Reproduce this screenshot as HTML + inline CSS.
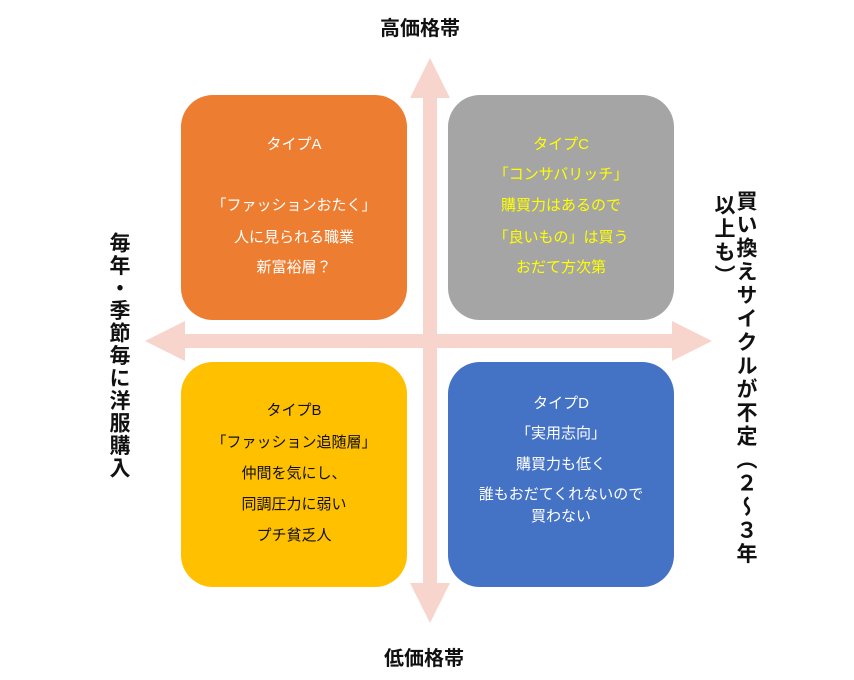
<!DOCTYPE html>
<html><head><meta charset="utf-8"><style>
body{margin:0;width:854px;height:680px;background:#fff;position:relative;overflow:hidden;font-family:"Liberation Sans","Noto Sans CJK JP",sans-serif;}
.box{position:absolute;width:226px;height:225px;border-radius:32px;}
.t{position:absolute;left:0;width:100%;text-align:center;font-size:15px;line-height:18px;}
.lbl{position:absolute;font-size:20px;font-weight:bold;color:#111;}
.v{position:absolute;writing-mode:vertical-rl;font-weight:bold;color:#111;font-size:21px;letter-spacing:3px;line-height:22px;white-space:nowrap;}
</style></head><body>
<svg width="854" height="680" style="position:absolute;left:0;top:0">
<g fill="#f8d5cc">
<rect x="423" y="96" width="14" height="490"/>
<polygon points="430,58 410,98 450,98"/>
<polygon points="430,623 410,583 450,583"/>
<rect x="180" y="334" width="500" height="14"/>
<polygon points="145,341 185,321 185,361"/>
<polygon points="712,341 672,321 672,361"/>
</g>
</svg>
<div class="lbl" style="left:380px;top:12px">高価格帯</div>
<div class="lbl" style="left:384px;top:642px">低価格帯</div>
<div class="v" style="left:107px;top:232px;letter-spacing:1.5px">毎年・季節毎に洋服購入</div>
<div class="v" style="left:734px;top:190px;letter-spacing:2.5px">買い換えサイクルが不定（２～３年</div>
<div class="v" style="left:712px;top:194px;letter-spacing:2.5px">以上も）</div>

<div class="box" style="left:181px;top:95px;background:#ed7d31;color:#fff">
<div class="t" style="top:41px">タイプA</div>
<div class="t" style="top:102px">「ファッションおたく」</div>
<div class="t" style="top:134px">人に見られる職業</div>
<div class="t" style="top:164px">新富裕層？</div>
</div>
<div class="box" style="left:448px;top:95px;background:#a5a5a5;color:#ffff00">
<div class="t" style="top:41px">タイプC</div>
<div class="t" style="top:71px">「コンサバリッチ」</div>
<div class="t" style="top:102px">購買力はあるので</div>
<div class="t" style="top:134px">「良いもの」は買う</div>
<div class="t" style="top:164px">おだて方次第</div>
</div>
<div class="box" style="left:181px;top:362px;background:#ffc000;color:#111">
<div class="t" style="top:40px">タイプB</div>
<div class="t" style="top:72px">「ファッション追随層」</div>
<div class="t" style="top:103px">仲間を気にし、</div>
<div class="t" style="top:134px">同調圧力に弱い</div>
<div class="t" style="top:165px">プチ貧乏人</div>
</div>
<div class="box" style="left:448px;top:362px;background:#4472c4;color:#fff">
<div class="t" style="top:33px">タイプD</div>
<div class="t" style="top:63px">「実用志向」</div>
<div class="t" style="top:94px">購買力も低く</div>
<div class="t" style="top:124px">誰もおだてくれないので</div>
<div class="t" style="top:146px">買わない</div>
</div>
</body></html>
